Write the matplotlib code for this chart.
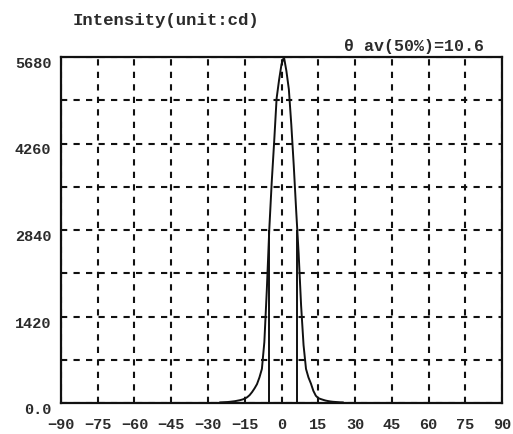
import matplotlib
matplotlib.use("Agg")
import matplotlib.pyplot as plt

# --- Data ---
angles = list(range(-25, 26))
intensity = [
    10, 12, 14, 16, 20, 25, 30, 38, 46, 57,
    71, 95, 130, 180, 240, 310, 420, 560, 1000, 1850,
    2840, 3620, 4285, 4999, 5300, 5560, 5680, 5450, 5150, 4570,
    3900, 3150, 2450, 1600, 950, 560, 420, 320, 200, 120,
    80, 65, 52, 40, 32, 25, 20, 17, 14, 11,
    10,
]
half_angles = [-5.0, 6.5]
half_value = 2840

x_ticks = list(range(-90, 91, 15))
y_ticks = [0, 1420, 2840, 4260, 5680]
y_tick_labels = ["0.0", "1420", "2840", "4260", "5680"]
y_grid = list(range(0, 5681, 710))

TEXT = "#2b2b2b"
FONT = "Liberation Mono"

fig = plt.figure(figsize=(5.13, 4.34), dpi=100, facecolor="white")
ax = fig.add_axes([61 / 513, 1 - 403 / 434, 441 / 513, 346 / 434])

ax.plot(angles, intensity, color="#111111", lw=1.4, zorder=3)
ax.vlines(half_angles, 0, half_value, color="#111111", lw=1.4, zorder=3)

ax.set_xlim(-90, 90)
ax.set_ylim(0, 5680)
ax.set_xticks(x_ticks)
ax.set_yticks(y_ticks)
ax.set_yticklabels(y_tick_labels)
ax.set_yticks(y_grid, minor=True)

ax.grid(True, which="both", color="#111111", lw=1.5, ls=(0, (3, 3)))
ax.tick_params(which="both", length=0)
ax.tick_params(axis="x", pad=11)
ax.tick_params(axis="y", pad=7)
for lab in ax.get_xticklabels() + ax.get_yticklabels():
    lab.set_fontfamily(FONT)
    lab.set_fontweight("bold")
    lab.set_fontsize(11)
    lab.set_color(TEXT)
for lab in ax.get_yticklabels():
    lab.set_va("top")

for s in ax.spines.values():
    s.set_linewidth(1.6)
    s.set_color("#111111")

fig.text(73 / 513, 1 - 20 / 434, "Intensity(unit:cd)", family=FONT, weight="bold",
         fontsize=12.5, color=TEXT, ha="left", va="center")
fig.text(484 / 513, 1 - 46 / 434, "θ av(50%)=10.6", family=FONT, weight="bold",
         fontsize=12, color=TEXT, ha="right", va="center")

fig.savefig("out.png", dpi=100, facecolor="white")
